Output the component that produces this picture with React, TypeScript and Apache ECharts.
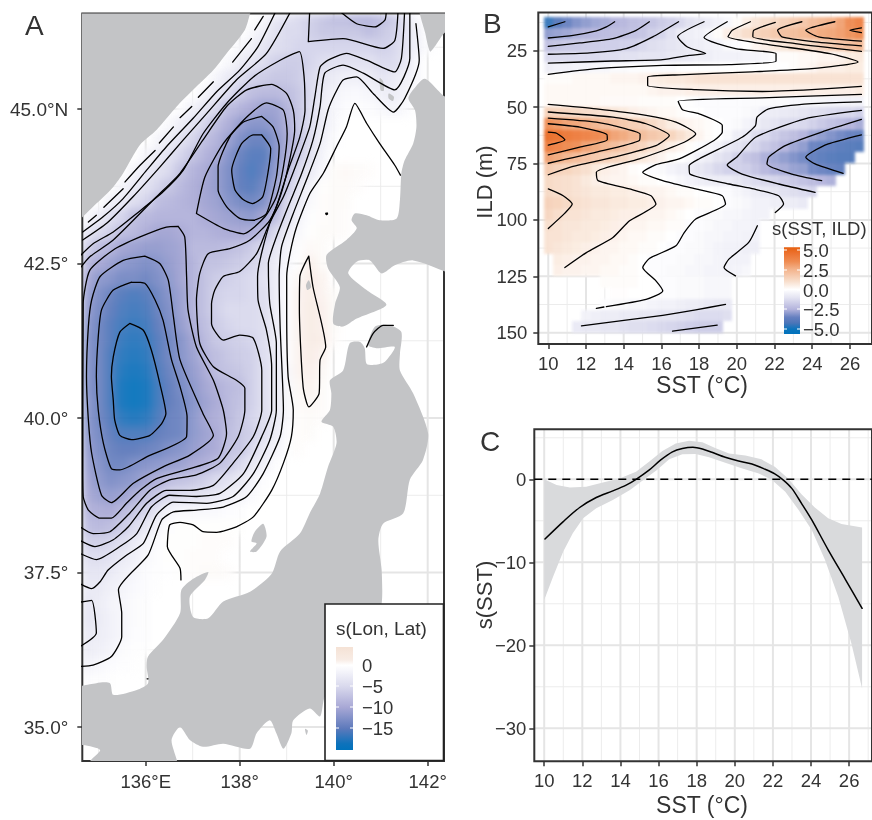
import React, { useEffect, useRef } from "react";
import * as echarts from "echarts";

const FONT = "Liberation Sans";
type P = number[];

// ---------- Panel A values ----------
const lonTicks = [136, 138, 140, 142];
const lonLabels = ["136°E", "138°", "140°", "142°"];
const lonMinor = [135, 137, 139, 141];
const latTicks = [35, 37.5, 40, 42.5, 45];
const latLabels = ["35.0°", "37.5°", "40.0°", "42.5°", "45.0°N"];
const latMinor = [36.25, 38.75, 41.25, 43.75, 46];

// [lat, first lon, values at 0.25° steps]
const seaRows: [number, number, number[]][] = [
  [46.5, 138.5, [-1, -3, -4, -5, -6, -7, -8, -8, -9, -9, -8, -7, -4, -1]],
  [46.25, 138.25, [-1, -2, -4, -5, -5, -6, -7, -7, -7, -7, -8, -7, -6, -4, -2]],
  [46, 138, [-1, -2, -3.5, -4.5, -5, -5.5, -5.5, -5.5, -5.5, -5.5, -5.5, -5.5, -6, -5.5, -4, -2, -0.5]],
  [45.75, 137.75, [-1, -2.5, -3.5, -4.5, -6, -6.5, -6.5, -5.5, -4.5, -4, -4, -4, -4, -5, -5, -3.5, -1]],
  [45.5, 137.5, [-1.5, -3, -4.5, -5.8, -6.5, -7, -7, -6.5, -5, -3.5, -2.5, -2, -2, -2.5, -3.5, -3, -2, -1]],
  [45.25, 137.25, [-1.5, -3, -4.5, -6.5, -8, -8.5, -8.5, -8, -7, -5, -3, -1.5, -1, -0.8, -1.2, -2, -2.5, -1.5, -0.5]],
  [45, 136.75, [-0.5, -2, -3.5, -5, -8, -9, -10, -11, -11, -9, -7, -4.5, -2.5, -1.2, -0.5, -0.3, -0.5, -1, -1.5, -1]],
  [44.75, 136.5, [-1, -2.5, -4, -5.5, -8, -9.5, -11.5, -12.5, -12.5, -11.5, -9.5, -7, -4.5, -2.5, -1]],
  [44.5, 136.25, [-1.5, -2.5, -4, -5.5, -8, -9, -11, -13, -14.5, -14.5, -12.5, -10, -7.5, -4.5, -2, -0.5]],
  [44.25, 136, [-1.5, -2.5, -4, -5.5, -7.5, -9, -10, -12.5, -14.5, -15.5, -15.5, -12.5, -9.5, -6.5, -4, -1.5]],
  [44, 135.75, [-1.5, -3, -4, -5, -7.5, -9, -10, -11.5, -13, -15, -16, -15, -12, -8, -5, -3, -0.8, 0.3, 0.4, 0.3, 0.2]],
  [43.75, 135.5, [-1.5, -3, -4, -5.5, -7, -8.5, -9.5, -10.5, -11.5, -13, -15, -15.5, -14, -11, -6.5, -3.5, -1.5, 0.1, 0.3, 0.3, 0.2]],
  [43.5, 135.25, [-2, -3, -4.5, -5.5, -8, -8.5, -9, -9.5, -10.5, -11, -12.5, -13.5, -14, -13, -10, -5, -3, -0.8, 0.2, 0.3, 0.3]],
  [43.25, 134.75, [-1, -2.5, -4.5, -5.5, -8, -8.5, -9, -9, -9, -9, -10, -10.5, -11, -11.5, -12, -10.5, -8, -4.5, -1.5, -0.3, 0.2, 0.3, 0.2]],
  [43, 134.75, [-3.5, -5, -6, -8, -8.5, -9.5, -10.5, -10.5, -10, -9, -9, -9.5, -10, -10, -9.5, -8, -5, -2.5, -1, 0.1, 0.3, 0.3, 0.2]],
  [42.75, 134.75, [-6, -8, -9, -10.5, -11, -11.5, -11.5, -11, -10.5, -8.5, -8.5, -8.5, -8, -7.5, -6.5, -5, -3.5, -1.5, -0.3, 0.4, 0.3]],
  [42.5, 134.75, [-8.5, -10, -11, -12, -12.5, -13, -12.5, -11.5, -10.5, -9, -7.5, -7.5, -7, -6.5, -5.5, -4.5, -2.5, -1, 0, 1, 0.3]],
  [42.25, 134.75, [-10, -12, -12.5, -13.5, -13.5, -14, -13, -12, -10.5, -9, -7.5, -6.5, -6, -5.5, -5, -4, -2.5, -0.5, 0.5, 1.2, 0.8]],
  [42, 134.75, [-11, -13, -14.5, -15.5, -16, -15.5, -14, -12.5, -11, -9, -7.5, -6, -5.5, -5.5, -5, -4.5, -2.5, -0.5, 0.8, 1.2, 0.8, 0.3]],
  [41.75, 134.75, [-11.5, -13.5, -15, -16, -16.5, -16, -14.5, -13, -11, -9, -7.5, -6, -5, -5, -5, -4.5, -2.5, -0.5, 0.8, 1.3, 1, 0.3]],
  [41.5, 134.75, [-12, -14, -15.5, -16.5, -17, -16.5, -15, -13.5, -11.5, -9.5, -8, -6.5, -5.5, -5, -5, -4.5, -2.5, -0.5, 0.8, 1.3, 1, 0.3]],
  [41.25, 134.75, [-12.5, -14, -15.5, -17, -17.5, -17, -15.5, -14, -12.5, -10.5, -8.5, -7, -6.5, -6, -5.5, -4.5, -2.5, -0.5, 0.8, 1.3, 1.2, 0.2]],
  [41, 134.75, [-12.5, -14, -16, -17.5, -18, -17.5, -15.5, -14, -12.5, -11, -9, -8, -7, -6.5, -6, -4.5, -3, -0.5, 0.8, 1.2, 0.8]],
  [40.75, 134.75, [-12.5, -14, -16, -18, -18.5, -18, -16, -14.5, -13, -11.5, -10, -8, -7.5, -7, -6, -4.5, -3, -1, 0.8, 1, 0.5]],
  [40.5, 134.75, [-12.5, -14, -16, -18.5, -19.5, -18.5, -16.5, -15, -13.5, -12, -10.5, -9.5, -8.5, -8, -6, -4.5, -3, -1, 0.5, 0.8, 0.3]],
  [40.25, 134.75, [-12, -14, -16, -18.5, -19.5, -18.5, -16.5, -15, -14, -12.5, -11, -10, -8.5, -7.5, -6, -4.5, -3, -1, 0.3, 0.5, 0.3]],
  [40, 134.75, [-12, -14, -15.5, -17.5, -18, -17.5, -16, -14.5, -14, -12, -10.5, -9.5, -8.5, -7, -5.5, -4.5, -3, -1, 0.2, 0.3, 0.2]],
  [39.75, 134.75, [-12, -13.5, -15, -16, -16, -16, -15, -14.5, -14, -12, -11, -10, -8, -7, -6, -4.5, -2.5, -0.5, 0.2, 0.3]],
  [39.5, 134.75, [-11.5, -13, -14.5, -15, -15, -14.5, -14, -13, -12.5, -11.5, -10.5, -10, -7.5, -7, -5, -3, -1.5, -0.3, 0.2]],
  [39.25, 134.75, [-11, -12.5, -14, -14, -13, -12.5, -12, -11.5, -11, -10, -9.5, -8, -7, -5, -3, -2, -0.5]],
  [39, 134.75, [-10.5, -12, -13, -12.5, -12, -10.5, -9.5, -8, -7.5, -7, -6, -5, -4, -3, -1.5, -0.5]],
  [38.75, 134.75, [-10, -11, -11.5, -11, -9.5, -8, -6.5, -5, -4.5, -4, -3.5, -3, -2, -1.5, -0.8, -0.2]],
  [38.5, 134.75, [-9, -9.5, -10, -8.5, -7, -5.5, -3.5, -1.5, -1, -1, -1, -0.8, -0.5, -0.3]],
  [38.25, 134.75, [-8, -8.5, -8, -6.5, -5, -3, -1.5, -0.3, 0.1, 0.1, 0.1, 0.1, 0.1, 0.1]],
  [38, 134.75, [-6, -6, -5.5, -4.5, -3, -1.5, -0.5, 0.1, 0.1, 0.1, 0.2, 0.2, 0.2]],
  [37.75, 134.75, [-4.5, -4.5, -4, -3, -2, -1, -0.3, 0.1, 0.1, 0.2, 0.2, 0.2]],
  [37.5, 134.75, [-3.5, -3.5, -3, -2, -1.2, -0.5, -0.3, -0.1, 0.1, 0.2, 0.3, 0.3, 0.2]],
  [37.25, 134.75, [-3, -3, -2, -1.5, -0.8, -0.4, -0.2]],
  [37, 134.75, [-3.5, -2.5, -1.5, -1.2, -0.6, -0.3]],
  [36.75, 134.75, [-3.5, -2.8, -1.8, -1.2, -0.6, -0.3]],
  [36.5, 134.75, [-3, -2.5, -1.8, -1.2, -0.5, -0.3]],
  [36.25, 134.75, [-2.5, -2, -1.5, -0.6, -0.3, -0.2]],
  [36, 134.75, [-1.5, -1, -0.5, -0.3, -0.2]],
  [35.75, 134.75, [-0.5, -0.3, -0.2]],
];

const landNW: P[] = [[134.5, 46.7], [138.3, 46.7], [138.22, 46.54], [138.11, 46.28], [137.72, 45.9], [137.44, 45.63], [137.01, 45.31], [136.66, 45.04], [136.23, 44.66], [135.88, 44.42], [135.52, 43.96], [135.31, 43.74], [134.95, 43.47], [134.5, 43.2]];
const landSakhalin: P[] = [[141.83, 46.7], [142.5, 46.7], [142.5, 46.2], [142.37, 46.24], [142.15, 46.01], [142.05, 45.93], [141.95, 46.22]];
const landHokkaido: P[] = [[142.5, 45.25], [142.37, 45.2], [141.94, 45.49], [141.69, 45.31], [141.59, 45.17], [141.73, 44.98], [141.76, 44.71], [141.69, 44.44], [141.51, 44.17], [141.44, 43.96], [141.41, 43.53], [141.34, 43.23], [140.98, 43.2], [140.7, 43.28], [140.45, 43.31], [140.38, 43.2], [140.49, 43.07], [140.27, 42.88], [139.85, 42.64], [139.88, 42.42], [140.13, 42.12], [140.03, 41.85], [139.99, 41.53], [140.2, 41.48], [140.49, 41.61], [141.12, 41.83], [140.7, 42.07], [140.31, 42.34], [140.49, 42.53], [140.77, 42.55], [141.02, 42.34], [141.3, 42.47], [141.69, 42.55], [142.37, 42.37], [142.5, 42.3]];
const landHonshu: P[] = [[139.92, 40.61], [140.2, 40.77], [140.34, 41.21], [140.56, 41.23], [140.66, 41.13], [140.7, 40.88], [140.88, 40.86], [141.09, 40.91], [141.3, 41.15], [140.91, 41.13], [140.73, 41.18], [140.88, 41.48], [141.2, 41.5], [141.44, 41.39], [141.41, 41.04], [141.41, 40.77], [141.69, 40.4], [142.01, 39.75], [141.9, 39.32], [141.62, 39], [141.48, 38.46], [141.05, 38.29], [140.95, 38.02], [141.02, 37.54], [141.02, 37], [140.84, 36.62], [140.27, 35.98], [139.81, 35.49], [139.71, 35.17], [139.49, 35.3], [139.14, 35.11], [139.1, 34.9], [138.93, 34.65], [138.78, 34.9], [138.64, 35.11], [138.36, 34.9], [138.22, 34.65], [137.65, 34.73], [137.22, 34.68], [136.94, 34.79], [136.73, 35], [136.55, 34.79], [136.66, 34.3], [134.81, 34.3], [134.81, 34.44], [135.03, 34.63], [134.67, 34.71], [134.5, 34.71], [134.5, 35.6], [134.95, 35.71], [135.24, 35.71], [135.31, 35.52], [135.81, 35.6], [136.05, 35.71], [136.02, 35.98], [136.05, 36.14], [136.37, 36.41], [136.73, 36.84], [136.76, 37.22], [137.01, 37.4], [137.33, 37.51], [137.26, 37.38], [136.94, 37.11], [137.01, 36.78], [137.33, 36.76], [137.65, 37.03], [138.22, 37.19], [138.68, 37.48], [138.86, 37.84], [139.28, 38.13], [139.49, 38.46], [139.71, 38.78], [139.88, 39.21], [140.06, 39.59], [139.99, 39.86], [139.74, 39.94], [139.92, 40.13], [139.95, 40.4]];
const landSado: P[] = [[138.5, 38.29], [138.32, 38.16], [138.25, 38], [138.36, 37.97], [138.22, 37.84], [138.36, 37.84], [138.57, 38.08]];
const landRishiri: P[] = [[140.98, 45.5], [141.05, 45.45], [141.07, 45.3], [141.0, 45.3]];
const landRebun: P[] = [[141.17, 45.25], [141.28, 45.2], [141.26, 45.13], [141.17, 45.17]];
const landOkushiri: P[] = [[139.47, 42.23], [139.52, 42.12], [139.44, 42.07], [139.41, 42.15]];
const landIzu: P[] = [[139.39, 34.97], [139.45, 34.94], [139.42, 34.87]];

const coastDashes: P[][] = [
  [[134.78, 43.17], [134.95, 43.28]],
  [[135.11, 43.41], [135.52, 43.71]],
  [[135.56, 43.82], [135.88, 44.09], [136.2, 44.33]],
  [[136.29, 44.45], [136.59, 44.71]],
  [[136.73, 44.86], [136.98, 45.04]],
  [[137.12, 45.19], [137.44, 45.44]],
  [[137.85, 45.76], [138.25, 46.14]],
  [[138.32, 46.28], [138.5, 46.5]],
];
const openContoursA: P[][] = [
  [[134.66, 43.01], [135.1, 43.26], [135.52, 43.55], [136.02, 44.01], [136.44, 44.39], [137.01, 44.85], [137.51, 45.28], [138, 45.63], [138.39, 46.01], [138.78, 46.6]],
  [[134.66, 42.88], [135.17, 43.15], [135.73, 43.58], [136.3, 44.06], [136.8, 44.5], [137.3, 44.93], [137.93, 45.47], [138.57, 45.9], [139.1, 46.6]],
  [[141.51, 46.6], [141.44, 45.82], [141.3, 45.6], [140.7, 45.79], [140.27, 45.9], [139.88, 45.79], [139.71, 45.68], [139.6, 45.2], [139.49, 44.71], [139.21, 44.12], [138.93, 43.58], [138.64, 43.15], [138.38, 42.29], [138.39, 41.91], [138.57, 41.42], [138.68, 40.83], [138.68, 40.13], [138.47, 39.7], [138.08, 39.1], [137.58, 38.78], [137.08, 38.73], [136.51, 38.75], [136.12, 38.56], [135.81, 38.13], [135.45, 37.92], [134.95, 37.71], [134.6, 37.81]],
  [[141.62, 46.6], [141.62, 45.82], [141.3, 45.31], [140.63, 45.58], [140.2, 45.71], [139.81, 45.58], [139.71, 45.04], [139.56, 44.5], [139.32, 43.96], [139.03, 43.42], [138.78, 42.93], [138.61, 42.5], [138.64, 41.85], [138.78, 41.21], [138.78, 40.13], [138.64, 39.64], [138.29, 39.1], [137.86, 38.73], [137.3, 38.62], [136.59, 38.64], [136.23, 38.43], [135.95, 37.97], [135.59, 37.78], [135.2, 37.54], [135.03, 37.35], [134.85, 37.24], [134.6, 37.32]],
  [[141.75, 46.38], [141.82, 45.79], [141.51, 45.17], [141.27, 44.95], [140.84, 45.25], [140.49, 45.52], [140.2, 45.47], [140.03, 45.25], [139.88, 44.98], [139.71, 44.44], [139.42, 43.85], [139.14, 43.31], [138.89, 42.77], [138.84, 42.29], [138.86, 41.48], [138.93, 40.13], [138.86, 39.7], [138.5, 39.1], [138.15, 38.73], [137.65, 38.56], [137.08, 38.51], [136.59, 38.48], [136.34, 38.35], [136.05, 37.78], [135.42, 37.22], [135.49, 36.84], [135.49, 36.46], [135.27, 36.14], [134.88, 36], [134.6, 35.98]],
  [[141.42, 43.93], [141.3, 44.09], [140.98, 44.44], [140.7, 44.77], [140.45, 45.09], [140.27, 44.71], [140.06, 44.39], [139.78, 43.96], [139.49, 43.63], [139.21, 43.09], [139.07, 42.66], [139, 42.29], [139, 41.75], [139.03, 40.67], [139.14, 40.13], [139.1, 39.7], [138.93, 39.27], [138.68, 38.83], [138.29, 38.4], [137.93, 38.24], [137.51, 38.15], [137.22, 38.16], [137.01, 38.27], [136.73, 38.31], [136.51, 38.27], [136.46, 37.92], [136.73, 37.57], [136.75, 37.38]],
  [[139.49, 46.6], [139.46, 46.09], [140.2, 46.14], [141.05, 45.98], [141.3, 46.11], [141.37, 46.6]],
  [[140.1, 46.6], [140.49, 46.38], [140.88, 46.33], [141.09, 46.44], [141.12, 46.6]],
  [[134.6, 42.62], [134.88, 42.82], [135.31, 43.01], [135.81, 43.31], [136.37, 43.66], [136.8, 44.01], [137.22, 44.6], [137.72, 45.09], [138.29, 45.52], [138.86, 45.79], [139.27, 45.93], [139.37, 45.52], [139.39, 44.98], [139.28, 44.55], [139.03, 44.01], [138.78, 43.42], [138.57, 43.04], [138.36, 42.66], [138, 42.37], [137.65, 42.29], [137.47, 42.07], [137.4, 41.85], [137.4, 41.53], [137.65, 41.26], [138, 41.34], [138.29, 41.29], [138.47, 40.77], [138.47, 40.13], [138.29, 39.7], [137.86, 39.27], [137.44, 38.91], [136.94, 38.83], [136.44, 38.83], [136.02, 38.62], [135.63, 38.24], [135.31, 38.03], [134.92, 37.92], [134.6, 38.02]],
  [[134.6, 42.42], [134.81, 42.61], [135.31, 42.88], [136.23, 43.58], [136.73, 43.96], [137.22, 44.5], [137.72, 45.04], [138.15, 45.31], [138.68, 45.4], [139, 45.25], [139.14, 44.98], [139.17, 44.66], [139.03, 44.06], [138.86, 43.58], [138.64, 43.2], [138.22, 42.88], [137.79, 42.74], [137.33, 42.66], [137.15, 42.34], [137.08, 41.91], [137.15, 41.21], [137.44, 40.83], [137.93, 40.61], [138.11, 40.48], [138.11, 40.13], [137.97, 39.7], [137.58, 39.27], [137.08, 39.08], [136.51, 39], [136.09, 38.83], [135.66, 38.46], [135.24, 38.16], [134.88, 38.13], [134.6, 38.24]],
  [[134.6, 37.02], [134.85, 37.05], [134.95, 36.52], [134.6, 36.3]],
  [[140.7, 41.15], [140.84, 41.37], [141.05, 41.5], [141.27, 41.5]],
];
const closedContoursA: P[][] = [
  [[137.08, 43.31], [137.26, 43.9], [137.65, 44.44], [138.15, 44.87], [138.57, 45.1], [138.93, 44.98], [139.01, 44.6], [138.93, 44.06], [138.78, 43.58], [138.54, 43.26], [138.08, 42.98], [137.65, 43.07]],
  [[138.47, 44.88], [138.08, 44.79], [137.79, 44.55], [137.54, 44.06], [137.54, 43.69], [137.72, 43.42], [138, 43.23], [138.29, 43.2], [138.57, 43.31], [138.78, 43.9], [138.84, 44.39], [138.71, 44.71]],
  [[138.47, 44.58], [138.29, 44.58], [138.04, 44.44], [137.83, 44.01], [137.9, 43.69], [138.08, 43.53], [138.27, 43.47], [138.49, 43.58], [138.61, 44.01], [138.66, 44.36]],
  [[136.69, 43.1], [136.44, 43.09], [135.88, 42.93], [135.31, 42.72], [134.81, 42.39], [134.67, 41.85], [134.66, 39.21], [134.67, 38.73], [134.78, 38.51], [135.03, 38.38], [135.27, 38.38], [135.59, 38.62], [135.88, 38.83], [136.23, 39.02], [136.94, 39.18], [137.54, 39.35], [137.72, 39.75], [137.65, 40.13], [137.44, 40.61], [137.08, 41.15], [136.9, 41.75], [136.87, 42.29], [136.83, 42.93]],
  [[135.98, 42.62], [135.52, 42.55], [135.03, 42.29], [134.85, 41.91], [134.78, 41.48], [134.74, 40.67], [134.78, 39.97], [134.85, 39.43], [135.06, 38.75], [135.27, 38.63], [135.73, 38.94], [136.37, 39.21], [136.94, 39.4], [137.44, 39.72], [137.22, 40.07], [136.73, 40.94], [136.59, 41.64], [136.48, 42.23], [136.3, 42.5]],
  [[135.7, 42.2], [135.31, 42.07], [135.06, 41.75], [134.99, 41.31], [134.95, 40.67], [134.99, 40.13], [135.1, 39.59], [135.27, 39.18], [135.45, 39.16], [136.02, 39.37], [136.87, 39.7], [136.88, 40.02], [136.73, 40.51], [136.55, 40.94], [136.37, 41.58], [136.2, 41.91], [135.98, 42.18]],
  [[135.66, 41.53], [135.45, 41.39], [135.31, 40.99], [135.27, 40.67], [135.31, 40.29], [135.34, 39.97], [135.45, 39.72], [135.7, 39.65], [136.09, 39.72], [136.34, 39.91], [136.43, 40.07], [136.3, 40.56], [136.12, 41.1], [135.95, 41.42]],
  [[139.47, 42.62], [139.28, 42.29], [139.27, 41.75], [139.35, 40.5], [139.47, 40.18], [139.69, 40.4], [139.71, 40.94], [139.83, 41.15], [139.56, 42.12]],
  [[139.83, 43.31], [139.86, 43.32], [139.87, 43.3], [139.84, 43.29]],
  [[136.03, 35.78], [136.05, 35.78], [136.05, 35.77]],
];

// ---------- Panel B values ----------
const sstTicks = [10, 12, 14, 16, 18, 20, 22, 24, 26];
const sstMinor = [11, 13, 15, 17, 19, 21, 23, 25, 27];
const ildTicks = [25, 50, 75, 100, 125, 150];
const ildMinor = [12.5, 37.5, 62.5, 87.5, 112.5, 137.5];

// [ILD, first SST, values at 0.5 °C steps]
const ildRows: [number, number, number[]][] = [
  [12.5, 10, [-4.5, -4, -3.5, -3.2, -3, -2.8, -2.7, -2.5, -2.4, -2.2, -2.1, -2, -1.8, -1.6, -1.4, -1.1, -0.9, -0.7, -0.5, -0.3, 0.1, 0.5, 0.8, 1, 1.2, 1.5, 1.7, 1.9, 2.2, 2.4, 2.6, 3, 3.6, 4]],
  [17.5, 10, [-3, -2.9, -2.8, -2.6, -2.5, -2.4, -2.3, -2.2, -2.2, -2.1, -2, -1.7, -1.5, -1.1, -0.7, -0.6, -0.5, -0.3, 0.1, 0.5, 0.8, 1.1, 1.4, 1.6, 1.8, 2.1, 2.2, 2.4, 2.6, 2.8, 2.9, 3.1, 3.4, 3.7]],
  [22.5, 10, [-2.1, -2, -1.9, -1.9, -1.8, -1.8, -1.7, -1.7, -1.6, -1.6, -1.4, -1.2, -1.1, -1, -0.9, -0.7, -0.6, -0.5, -0.4, -0.2, -0.1, 0, 0.3, 0.5, 0.7, 0.8, 1, 1.1, 1.2, 1.5, 1.7, 2, 2.2, 2.4]],
  [27.5, 10, [-1.3, -1.3, -1.3, -1.3, -1.3, -1.3, -1.2, -1.2, -1.1, -1.1, -1, -1, -1, -0.9, -0.9, -0.8, -0.6, -0.6, -0.5, -0.5, -0.5, -0.4, -0.4, -0.3, -0.1, 0.1, 0.1, 0.2, 0.2, 0.3, 0.3, 0.4, 0.6, 0.7]],
  [32.5, 10, [-0.6, -0.5, -0.5, -0.4, -0.4, -0.3, -0.3, -0.2, -0.2, -0.1, -0.1, -0.1, -0.1, -0.1, 0, 0, 0, 0, 0, 0, 0, 0, 0, 0, 0, 0, 0.1, 0.2, 0.3, 0.5, 0.5, 0.5, 0.6, 0.6]],
  [37.5, 10, [0.1, 0.1, 0.1, 0.2, 0.2, 0.2, 0.2, 0.3, 0.3, 0.3, 0.4, 0.5, 0.6, 0.7, 0.7, 0.8, 0.9, 0.9, 0.9, 0.9, 0.9, 0.9, 0.9, 0.9, 0.9, 0.9, 0.9, 0.9, 0.9, 0.9, 0.9, 0.9, 0.9, 0.9]],
  [42.5, 10, [0.2, 0.2, 0.2, 0.2, 0.2, 0.2, 0.2, 0.2, 0.2, 0.2, 0.2, 0.3, 0.4, 0.4, 0.4, 0.5, 0.5, 0.5, 0.5, 0.5, 0.5, 0.5, 0.5, 0.5, 0.5, 0.5, 0.5, 0.5, 0.5, 0.5, 0.5, 0.5, 0.5, 0.6]],
  [47.5, 10, [0.2, 0.2, 0.2, 0.2, 0.2, 0.2, 0.15, 0.15, 0.15, 0.15, 0.1, 0.1, 0.1, 0.1, 0, -0.05, -0.1, -0.1, -0.1, -0.1, -0.1, -0.15, -0.15, -0.2, -0.2, -0.2, -0.25, -0.3, -0.3, -0.35, -0.4, -0.4, -0.45, -0.5]],
  [52.5, 10, [1.5, 1.4, 1.3, 1.2, 1.1, 1, 0.9, 0.8, 0.7, 0.5, 0.4, 0.3, 0.2, 0.2, 0.1, 0, 0, -0.1, -0.1, -0.1, -0.1, -0.2, -0.3, -0.7, -0.7, -0.8, -0.9, -1, -1.1, -1.2, -1.3, -1.4, -1.4, -1.6]],
  [57.5, 10, [3.5, 3.3, 3, 2.9, 2.7, 2.5, 2.2, 2, 1.8, 1.6, 1.5, 1.2, 0.9, 0.6, 0.4, 0.3, 0.2, 0.1, 0, -0.1, -0.2, -0.4, -0.6, -0.9, -1, -1.2, -1.3, -1.4, -1.6, -1.9, -2.1, -2.3, -2.5, -2.7]],
  [62.5, 10, [4.8, 4.7, 4.4, 4.2, 4, 3.8, 3.5, 3, 2.8, 2.5, 2.2, 1.9, 1.7, 1.4, 1, 0.7, 0.3, 0.1, 0, -0.2, -0.6, -0.8, -1.2, -1.4, -1.7, -2, -2.2, -2.5, -2.8, -3, -3.2, -3.4, -3.6, -3.7]],
  [67.5, 10, [4.2, 4, 3.7, 3.5, 3, 2.8, 2.5, 2.2, 1.9, 1.6, 1.4, 1, 0.8, 0.5, 0.3, 0.1, -0.1, -0.3, -0.4, -0.8, -1, -1.2, -1.5, -1.9, -2.1, -2.5, -2.8, -3, -3.5, -3.7, -3.8, -4, -4.1, -4.2]],
  [72.5, 10, [3, 2.8, 2.5, 2.3, 2, 1.8, 1.6, 1.4, 1.2, 0.9, 0.7, 0.5, 0.3, 0.1, 0, -0.2, -0.5, -0.7, -1, -1.2, -1.6, -2, -2.2, -2.6, -2.8, -3, -3.2, -3.4, -3.7, -3.9, -4.1, -4.2, -4.2]],
  [77.5, 10, [1.7, 1.5, 1.4, 1.2, 1, 0.7, 0.5, 0.4, 0.3, 0.1, 0, -0.1, -0.2, -0.4, -0.6, -0.7, -0.9, -1.1, -1.4, -1.6, -1.6, -1.7, -2, -2.4, -2.6, -2.7, -2.9, -3, -3.4, -3.5, -3.7, -3.8]],
  [82.5, 10, [1.2, 1.1, 1, 0.9, 0.7, 0.5, 0.4, 0.3, 0.3, 0.2, 0.1, 0.1, 0, -0.1, -0.3, -0.5, -0.6, -0.7, -0.7, -0.7, -0.9, -1.1, -1.3, -1.4, -1.5, -1.7, -1.9, -2.1, -2.3, -2.5, -2.6]],
  [87.5, 10, [1.2, 1.1, 1, 0.9, 0.8, 0.7, 0.7, 0.6, 0.6, 0.5, 0.4, 0.3, 0.3, 0.2, 0.1, 0.1, 0, 0, -0.1, -0.1, -0.3, -0.5, -0.7, -0.8, -0.9, -1.1, -1.2, -1.3, -1.5]],
  [92.5, 10, [1.5, 1.4, 1.2, 1, 0.9, 0.8, 0.8, 0.7, 0.7, 0.6, 0.6, 0.5, 0.4, 0.3, 0.3, 0.2, 0.1, 0.1, 0, -0.1, -0.2, -0.3, -0.5, -0.5, -0.6, -0.7, -0.7, -0.8]],
  [97.5, 10, [1.3, 1.1, 0.9, 0.9, 0.8, 0.7, 0.7, 0.6, 0.5, 0.5, 0.4, 0.3, 0.3, 0.2, 0.1, 0, -0.1, -0.2, -0.2, -0.3, -0.3, -0.4, -0.5, -0.5]],
  [102.5, 10, [1, 0.9, 0.8, 0.8, 0.7, 0.7, 0.6, 0.5, 0.4, 0.3, 0.3, 0.2, 0.2, 0.1, 0.1, -0.1, -0.1, -0.2, -0.3, -0.3, -0.4, -0.4, -0.5]],
  [107.5, 10, [0.9, 0.9, 0.8, 0.7, 0.7, 0.6, 0.5, 0.4, 0.3, 0.2, 0.2, 0.1, 0.1, 0, -0.1, -0.1, -0.2, -0.3, -0.3, -0.4, -0.4, -0.5, -0.5]],
  [112.5, 10, [0.9, 0.8, 0.7, 0.6, 0.5, 0.4, 0.3, 0.3, 0.2, 0.2, 0.1, 0.1, 0, -0.1, -0.1, -0.2, -0.2, -0.3, -0.4, -0.5, -0.5, -0.6, -0.6]],
  [117.5, 10.5, [0.6, 0.5, 0.4, 0.4, 0.3, 0.3, 0.2, 0.2, 0.1, 0, -0.1, -0.1, -0.1, -0.2, -0.2, -0.3, -0.3, -0.4, -0.5, -0.5, -0.5]],
  [122.5, 10.5, [0.5, 0.4, 0.4, 0.3, 0.3, 0.2, 0.2, 0.1, 0.1, 0, -0.1, -0.1, -0.2, -0.2, -0.3, -0.3, -0.4, -0.4, -0.5, -0.4, -0.3]],
  [127.5, 13, [0.1, 0.1, 0.1, 0.1, 0, 0, -0.1, -0.1, -0.2, -0.2, -0.2, -0.3, -0.3, -0.3]],
  [132.5, 13.5, [0.05, 0.05, 0, 0, 0, -0.1, -0.1, -0.2, -0.2, -0.2, -0.3, -0.3, -0.3]],
  [137.5, 13, [-0.1, -0.2, -0.2, -0.3, -0.3, -0.4, -0.5, -0.5, -0.6, -0.7, -0.7, -0.8, -0.9, -0.9]],
  [142.5, 12, [-0.5, -0.6, -0.7, -0.7, -0.8, -0.8, -0.9, -0.9, -1, -1, -1.1, -1.2, -1.3, -1.3, -1.3, -1.2]],
  [147.5, 11.5, [-0.8, -0.9, -0.9, -1, -1, -1.1, -1.2, -1.2, -1.3, -1.4, -1.5, -1.6, -1.7, -1.8, -1.8, -1.8]],
];

const contoursB: P[][] = [
  [[10, 14.5], [10.88, 12.2]],
  [[10, 19.4], [11.32, 18.2], [12.55, 16.2], [13.08, 14.5], [13.52, 12.2]],
  [[10, 23.1], [11.67, 21.6], [13.43, 19.7], [14.66, 16], [15.36, 12.2]],
  [[10, 26.6], [12.2, 26], [14.13, 24.1], [15.54, 18.9], [16.91, 12.2]],
  [[10, 30.5], [13.43, 29.6], [16.07, 29], [17.47, 27.1], [18.35, 26.3], [17.38, 23.4], [16.86, 18.9], [18.26, 12.2]],
  [[10, 35.5], [12.55, 33], [16.07, 31.5], [19.58, 31.2], [22.08, 29.7], [22.08, 26.3], [19.93, 24.1], [18.26, 19.2], [19.49, 12.2]],
  [[20.72, 12.2], [19.76, 16], [19.53, 18.9], [21.34, 21.9], [24.94, 26.3], [26.43, 30], [23.97, 33], [20.46, 34.5], [16.94, 35.7], [15.27, 36.7], [15.27, 40.4], [17.82, 42.3], [21.34, 43.1], [23.97, 42.3], [26.61, 40.8]],
  [[22.04, 12.5], [20.9, 16], [20.85, 18.9], [23.1, 21.9], [26.61, 25.3]],
  [[23.45, 12.2], [22.16, 16], [22.39, 18.9], [24.15, 21.1], [26.61, 22.9]],
  [[25.2, 12.2], [23.66, 16], [24.33, 18.9], [26.61, 20.8]],
  [[26.61, 14.9], [25.99, 16], [26.61, 17]],
  [[26.61, 44.4], [21.34, 45.9], [16.89, 47.4], [17.12, 51.2], [18, 53], [19.23, 58.2], [19.23, 61.1], [18.79, 64.8], [16.94, 73], [15.71, 75.5], [15.01, 78.9], [16.07, 82.6], [17.82, 86.3], [19.23, 89.3], [19.4, 93], [17.82, 99.6], [17.21, 105.6], [16.77, 111.5], [15.36, 117.1], [15.01, 121.1], [15.71, 127], [16.07, 131.5], [15.19, 135.2], [13.08, 138.4]],
  [[12.95, 138.6], [12.55, 139.2]],
  [[26.61, 47.7], [23.97, 48.5], [21.69, 50.8], [21.07, 54.5], [20.99, 58.2], [20.28, 63.4], [17.99, 73], [17.47, 76], [17.51, 79.7], [19.58, 84.1], [20.9, 86.3], [22.22, 89.3], [22.48, 93], [22.04, 96.7]],
  [[26.61, 51.5], [23.62, 55.2], [20.99, 63.4], [20.02, 72], [19.49, 75.7], [20.28, 79.7], [22.22, 84.1], [24.15, 87.8]],
  [[26.61, 55.5], [24.5, 61.1], [22.57, 67.1], [21.69, 72.2], [21.6, 75.2], [22.92, 79.7], [24.5, 82.6]],
  [[26.61, 62.3], [24.85, 66.3], [23.97, 70], [23.66, 72.2], [24.15, 75.2], [25.64, 79.4]],
  [[10, 48.8], [12.55, 50.8], [15.19, 53.7], [16.77, 56.7], [17.82, 61.9], [17.21, 65.6], [14.83, 73], [12.55, 78.9], [12.64, 82.6], [14.31, 86.3], [15.45, 89.3], [15.71, 93], [14.31, 100.4], [13.43, 107.8], [12.02, 114.5], [10.88, 121.1]],
  [[10, 52.2], [13.43, 54.5], [15.19, 57.4], [16.42, 62.6], [15.71, 67.1], [13.43, 72.3], [11.14, 76.7], [10, 80]],
  [[10, 54.9], [12.55, 56.7], [14.13, 59.7], [14.87, 61.9], [14.83, 64.8], [12.55, 70], [10, 74.9]],
  [[10, 57.4], [11.67, 58.9], [13.11, 62.2], [13.13, 64.5], [11.67, 67.8], [10, 71.2]],
  [[10, 61.1], [10.44, 61.6], [10.88, 64.5], [10, 66.9]],
  [[10, 86.3], [10.79, 89.3], [11.27, 93], [10.88, 97], [10, 103.8]],
  [[21.09, 102.6], [20.63, 110], [19.58, 117.4], [19.32, 121.1], [19.93, 124.8]],
  [[11.76, 147], [16.07, 142.3], [17.82, 139.9], [19.4, 137.4]],
  [[16.59, 149.3], [18.96, 146.6]],
];

// ---------- Panel C values ----------
const smoothTicks = [-30, -20, -10, 0];
const smoothMinor = [-25, -15, -5, 5];
const smoothFit: P[] = [[10.04, -7.2], [11, -5.1], [11.86, -3.4], [12.73, -2.2], [13.6, -1.4], [14.3, -0.7], [14.82, 0], [15.5, 1.1], [16.1, 2.3], [16.73, 3.3], [17.25, 3.7], [17.8, 3.85], [18.3, 3.65], [18.8, 3.25], [19.5, 2.65], [20.2, 2.2], [20.9, 1.85], [21.6, 1.2], [22.1, 0.65], [22.55, -0.1], [22.99, -1.1], [23.5, -2.9], [24.04, -4.9], [24.9, -8.5], [25.8, -12.05], [26.68, -15.55]];
const smoothUpper: P[] = [[10, 0], [10.65, -0.7], [11.35, -1], [12.2, -0.9], [13.08, -0.4], [13.95, 0.1], [14.82, 0.9], [15.5, 2.1], [16.2, 3.4], [16.9, 4.3], [17.6, 4.65], [18.3, 4.45], [19, 3.75], [19.7, 3.1], [20.56, 2.85], [21.4, 2.4], [22.1, 1.5], [22.8, 0.1], [23.5, -1.8], [24.2, -3.4], [24.9, -4.7], [25.6, -5.4], [26.68, -5.8]];
const smoothLower: P[] = [[10, -14.55], [10.47, -11.7], [11, -8.7], [11.5, -6.5], [12.04, -4.7], [12.73, -3.5], [13.6, -2.5], [14.5, -1.3], [15.2, -0.1], [15.9, 1.1], [16.56, 2.4], [17.25, 3], [17.95, 3.05], [18.65, 2.65], [19.5, 2], [20.4, 1.3], [21.26, 0.7], [21.95, -0.1], [22.65, -1.5], [23.35, -3.7], [24.04, -6.1], [24.73, -9.7], [25.43, -14.15], [26.12, -19.8], [26.68, -25.2]];

// ---------- colour ramps ----------
const rampA: [number, string][] = [[-20, "#0072bc"], [-18.5, "#0e72bb"], [-15, "#5c79bb"], [-10, "#a7a7d5"], [-5, "#d9d9ed"], [-1, "#f8f8fc"], [0, "#ffffff"], [1.3, "#f8ece5"], [4.3, "#f5e2d5"]];
const rampB: [number, string][] = [[-5.6, "#0072bc"], [-5, "#0a74bc"], [-4.2, "#4d75b8"], [-3.5, "#6680c0"], [-2.5, "#b3b3dc"], [-1, "#e4e4f2"], [0, "#ffffff"], [1, "#f8dfcd"], [2.5, "#f3b48d"], [3.5, "#ef8c52"], [4.5, "#ec7230"], [5.3, "#e7600f"]];

const hex = (c: string) => [1, 3, 5].map((i) => parseInt(c.slice(i, i + 2), 16));
function colorOf(ramp: [number, string][], v: number) {
  if (v <= ramp[0][0]) return ramp[0][1];
  for (let i = 1; i < ramp.length; i++) {
    if (v <= ramp[i][0]) {
      const t = (v - ramp[i - 1][0]) / (ramp[i][0] - ramp[i - 1][0]);
      const a = hex(ramp[i - 1][1]);
      const b = hex(ramp[i][1]);
      return `rgb(${a.map((x, k) => Math.round(x + (b[k] - x) * t)).join(",")})`;
    }
  }
  return ramp[ramp.length - 1][1];
}
function gradient(ramp: [number, string][], top: number, bottom: number) {
  const colorStops = ramp
    .filter((s) => s[0] <= top && s[0] >= bottom)
    .map((s) => ({ offset: (top - s[0]) / (top - bottom), color: s[1] }))
    .sort((a, b) => a.offset - b.offset);
  return { type: "linear", x: 0, y: 0, x2: 0, y2: 1, colorStops };
}

const LON = [134.651, 142.347];
const LAT = [34.45, 46.544];
const SSTB = [9.47, 27.17];
const ILD = [8.1, 155];
const SSTC = [9.48, 27.2];
const SM = [-33.98, 6.02];

const GRID_MAJOR = "#e5e5e5";
const GRID_MINOR = "#ececec";
const LAND = "#c3c4c6";
const TEXT = "#333333";

function gridSeries(idx: number, xr: number[], yr: number[], xMaj: number[], xMin: number[], yMaj: number[], yMin: number[]) {
  const lines = [
    ...xMin.map((v) => [v, 0, 0]),
    ...yMin.map((v) => [v, 1, 0]),
    ...xMaj.map((v) => [v, 0, 1]),
    ...yMaj.map((v) => [v, 1, 1]),
  ];
  return {
    type: "custom",
    xAxisIndex: idx,
    yAxisIndex: idx,
    silent: true,
    clip: true,
    z: 1,
    encode: { x: 0 },
    data: lines,
    renderItem: (p: any, api: any) => {
      const [v, horiz, major] = lines[p.dataIndex];
      const a = horiz ? api.coord([xr[0], v]) : api.coord([v, yr[0]]);
      const b = horiz ? api.coord([xr[1], v]) : api.coord([v, yr[1]]);
      return {
        type: "line",
        shape: { x1: a[0], y1: a[1], x2: b[0], y2: b[1] },
        style: { stroke: major ? GRID_MAJOR : GRID_MINOR, lineWidth: major ? 2 : 1 },
      };
    },
  };
}

function rasterSeries(idx: number, cells: number[][], dx: number, dy: number, ramp: [number, string][]) {
  return {
    type: "custom",
    xAxisIndex: idx,
    yAxisIndex: idx,
    silent: true,
    clip: true,
    z: 2,
    data: cells,
    renderItem: (p: any, api: any) => {
      const [x, y, v] = cells[p.dataIndex];
      const a = api.coord([x - dx, y - dy]);
      const b = api.coord([x + dx, y + dy]);
      const x0 = Math.round(Math.min(a[0], b[0]));
      const x1 = Math.round(Math.max(a[0], b[0]));
      const y0 = Math.round(Math.min(a[1], b[1]));
      const y1 = Math.round(Math.max(a[1], b[1]));
      return {
        type: "rect",
        shape: { x: x0, y: y0, width: x1 - x0, height: y1 - y0 },
        style: { fill: colorOf(ramp, v) },
      };
    },
  };
}

function polySeries(idx: number, polys: P[][], fill: string, z: number, smooth = 0) {
  return {
    type: "custom",
    xAxisIndex: idx,
    yAxisIndex: idx,
    silent: true,
    clip: true,
    z,
    encode: { x: 0, y: 1 },
    data: polys.map((p) => p[0]),
    renderItem: (p: any, api: any) => ({
      type: "polygon",
      shape: { points: polys[p.dataIndex].map((q) => api.coord(q)), smooth },
      style: { fill },
    }),
  };
}

function lineSeries(idx: number, pts: P[], width = 1.3, extra: any = {}) {
  return {
    type: "line",
    xAxisIndex: idx,
    yAxisIndex: idx,
    data: pts,
    showSymbol: false,
    silent: true,
    clip: true,
    z: 5,
    smooth: 0.2,
    lineStyle: { color: "#000000", width, join: "round", cap: "round" },
    ...extra,
  };
}

const closeLoop = (c: P[]) => [...c, c[0]];
const minus = (v: number) => (v < 0 ? "\u2212" + Math.abs(v) : String(v));

function xAxisOf(idx: number, r: number[], ticks: number[], fmt: (v: number) => string, margin: number, size: number, visible: boolean) {
  return {
    type: "value",
    gridIndex: idx,
    min: r[0],
    max: r[1],
    axisLine: { show: false, onZero: false },
    splitLine: { show: false },
    axisTick: { show: visible, length: 5, customValues: ticks, lineStyle: { color: TEXT, width: 1.5 } },
    axisLabel: { show: visible, customValues: ticks, formatter: fmt, color: TEXT, fontSize: size, fontFamily: FONT, margin },
  };
}
function yAxisOf(idx: number, r: number[], ticks: number[], fmt: (v: number) => string, margin: number, size: number, visible: boolean, inverse = false) {
  return {
    type: "value",
    gridIndex: idx,
    min: r[0],
    max: r[1],
    inverse,
    axisLine: { show: false, onZero: false },
    splitLine: { show: false },
    axisTick: { show: visible, length: 5, customValues: ticks, lineStyle: { color: TEXT, width: 1.5 } },
    axisLabel: { show: visible, customValues: ticks, formatter: fmt, color: TEXT, fontSize: size, fontFamily: FONT, margin },
  };
}

const text = (t: string, x: number, y: number, size: number, align = "left", rotation = 0, fill = TEXT) => ({
  type: "text",
  x,
  y,
  rotation,
  z: 100,
  silent: true,
  style: { text: t, x: 0, y: 0, fontFamily: FONT, fontSize: size, fill, align, verticalAlign: "middle" },
});
const rect = (x: number, y: number, w: number, h: number, style: any) => ({
  type: "rect",
  shape: { x, y, width: w, height: h },
  z: 99,
  silent: true,
  style,
});
const whiteTick = (x1: number, x2: number, y: number) => ({
  type: "line",
  z: 100,
  silent: true,
  shape: { x1, y1: y, x2, y2: y },
  style: { stroke: "#ffffff", lineWidth: 1 },
});

function frame(visible: boolean) {
  const lonFmt = (v: number) => lonLabels[lonTicks.indexOf(v)] ?? "";
  const latFmt = (v: number) => latLabels[latTicks.indexOf(v)] ?? "";
  const base = { show: visible, backgroundColor: "transparent", borderColor: TEXT, borderWidth: 2 };
  return {
    animation: false,
    textStyle: { fontFamily: FONT },
    grid: [
      { left: 82.3, top: 13.6, width: 361.7, height: 747.4, ...base },
      { left: 538.3, top: 12.5, width: 335.7, height: 331.5, ...base },
      { left: 534.3, top: 429.3, width: 339.7, height: 332, ...base },
    ],
    xAxis: [
      xAxisOf(0, LON, lonTicks, lonFmt, 11, 18.5, visible),
      xAxisOf(1, SSTB, sstTicks, (v) => String(v), 10, 18.5, visible),
      xAxisOf(2, SSTC, sstTicks, (v) => String(v), 10, 18.5, visible),
    ],
    yAxis: [
      yAxisOf(0, LAT, latTicks, latFmt, 14, 19, visible),
      yAxisOf(1, ILD, ildTicks, (v) => String(v), 11, 18.5, visible, true),
      yAxisOf(2, SM, smoothTicks, minus, 8, 18.5, visible),
    ],
  };
}

const CLIP_A = "path('M83 15H443V760H83Z')";
const CLIP_B = "path('M539 13.5H872V343H539Z')";

export default function App() {
  const baseRef = useRef<HTMLDivElement>(null);
  const rasterARef = useRef<HTMLDivElement>(null);
  const rasterBRef = useRef<HTMLDivElement>(null);
  const topRef = useRef<HTMLDivElement>(null);
  useEffect(() => {
    const init = (r: React.RefObject<HTMLDivElement | null>) => echarts.init(r.current!, undefined, { renderer: "svg" });
    const base = init(baseRef);
    const rasterA = init(rasterARef);
    const rasterB = init(rasterBRef);
    const top = init(topRef);

    const cellsA: number[][] = [];
    seaRows.forEach(([lat, lon0, vals]) =>
      vals.forEach((v, i) => {
        if (v !== 0) cellsA.push([lon0 + i * 0.25, lat, v]);
      })
    );
    const cellsB: number[][] = [];
    ildRows.forEach(([ild, s0, vals]) =>
      vals.forEach((v, i) => cellsB.push([s0 + i * 0.5, ild, v]))
    );

    const lands = [landNW, landSakhalin, landHokkaido, landHonshu, landSado, landRishiri, landRebun, landOkushiri, landIzu];
    const band = [...smoothUpper, ...[...smoothLower].reverse()];

    base.setOption({
      ...frame(false),
      series: [
        gridSeries(0, LON, LAT, lonTicks, lonMinor, latTicks, latMinor),
        gridSeries(1, SSTB, ILD, sstTicks, sstMinor, ildTicks, ildMinor),
        gridSeries(2, SSTC, SM, sstTicks, sstMinor, smoothTicks, smoothMinor),
      ],
    });
    rasterA.setOption({ ...frame(false), series: [rasterSeries(0, cellsA, 0.125, 0.125, rampA)] });
    rasterB.setOption({ ...frame(false), series: [rasterSeries(1, cellsB, 0.25, 2.5, rampB)] });

    top.setOption({
      ...frame(true),
      series: [
        polySeries(0, lands, LAND, 3, 0.25),
        ...coastDashes.map((c) => lineSeries(0, c)),
        ...openContoursA.map((c) => lineSeries(0, c)),
        ...closedContoursA.map((c) => lineSeries(0, closeLoop(c))),
        ...contoursB.map((c) => lineSeries(1, c)),
        polySeries(2, [band], "#d9dadc", 3),
        lineSeries(2, [[SSTC[0], 0], [SSTC[1], 0]], 1.6, { smooth: false, lineStyle: { color: "#000000", width: 1.6, type: [8, 6] } }),
        lineSeries(2, smoothFit, 1.5, { smooth: 0.3 }),
      ],
      graphic: {
        elements: [
          text("A", 25, 25, 28),
          text("B", 483, 23, 28),
          text("C", 480, 441, 28),
          text("SST (°C)", 702, 385, 23, "center"),
          text("SST (°C)", 702, 805, 23, "center"),
          text("ILD (m)", 484, 182, 22, "center", Math.PI / 2),
          text("s(SST)", 484, 595, 22, "center", Math.PI / 2),
          // panel A legend
          rect(325, 604, 118.5, 156.5, { fill: "#ffffff", stroke: "#222222", lineWidth: 1.6 }),
          text("s(Lon, Lat)", 336, 628, 19),
          rect(336, 647, 17, 103, { fill: gradient(rampA, 4.3, -20) }),
          text("0", 362, 665, 18.5),
          text("\u22125", 362, 686, 18.5),
          text("\u221210", 362, 707, 18.5),
          text("\u221215", 362, 728, 18.5),
          ...[665, 686, 707, 728].flatMap((y) => [whiteTick(336, 339, y), whiteTick(350, 353, y)]),
          // panel B legend
          text("s(SST, ILD)", 772, 228, 18.5),
          rect(784, 247.3, 16, 86.7, { fill: gradient(rampB, 5.3, -5.6) }),
          text("5.0", 803, 250, 18.5),
          text("2.5", 803, 270, 18.5),
          text("0.0", 803, 290, 18.5),
          text("\u22122.5", 803, 309, 18.5),
          text("\u22125.0", 803, 329, 18.5),
          ...[250, 270, 290, 309, 329].flatMap((y) => [whiteTick(784, 787, y), whiteTick(797, 800, y)]),
        ],
      },
    });
    return () => {
      base.dispose();
      rasterA.dispose();
      rasterB.dispose();
      top.dispose();
    };
  }, []);
  const layer: React.CSSProperties = { position: "fixed", left: 0, top: 0, width: 872, height: 820 };
  return (
    <>
      <div ref={baseRef} style={layer} />
      <div style={{ ...layer, clipPath: CLIP_A, opacity: 0.94 }}>
        <div ref={rasterARef} style={{ width: 872, height: 820, filter: "blur(4px)" }} />
      </div>
      <div style={{ ...layer, clipPath: CLIP_B, opacity: 0.94 }}>
        <div ref={rasterBRef} style={{ width: 872, height: 820, filter: "blur(1.5px)" }} />
      </div>
      <div ref={topRef} style={layer} />
    </>
  );
}
